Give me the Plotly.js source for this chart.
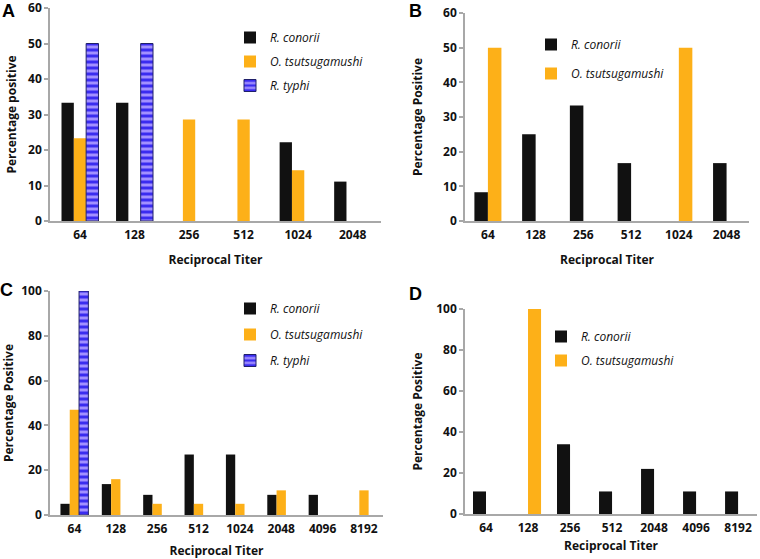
<!DOCTYPE html>
<html>
<head>
<meta charset="utf-8">
<script src="https://cdn.plot.ly/plotly-3.0.1.min.js"></script>
<style>html,body{margin:0;padding:0;background:#fff;}#chart{width:760px;height:559px;}</style>
</head>
<body>
<div id="chart"></div>
<script>
// ---- Data ----
const titersA = ['64','128','256','512','1024','2048'];
const A_conorii = [33.3, 33.3, 0, 0, 22.2, 11.1];
const A_tsutsu  = [23.3, 0, 28.6, 28.6, 14.3, 0];
const A_typhi   = [50, 50, null, null, null, null];

const titersB = ['64','128','256','512','1024','2048'];
const B_conorii = [8.3, 25, 33.3, 16.7, 0, 16.7];
const B_tsutsu  = [50, 0, 0, 0, 50, 0];

const titersC = ['64','128','256','512','1024','2048','4096','8192'];
const C_conorii = [5, 13.8, 9, 27, 27, 9, 9, 0];
const C_tsutsu  = [47, 16, 5, 5, 5, 11, 0, 11];
const C_typhi   = [100, null, null, null, null, null, null, null];

const titersD = ['64','128','256','512','2048','4096','8192'];
const D_conorii = [11, 0, 34, 11, 22, 11, 11];
const D_tsutsu  = [0, 100, 0, 0, 0, 0, 0];

const seriesNames = ['R. conorii', 'O. tsutsugamushi', 'R. typhi'];
const panelLetters = ['A', 'B', 'C', 'D'];

// ---- Styles ----
const W = 760, H = 559;
const BLACK = '#111111', ORANGE = '#FDB018', BLUE = '#3a2cf0', LAV = '#a290ff';
const AXC = '#a8a8a8';
const FONT = 'Open Sans, DejaVu Sans, sans-serif';
const px = v => v / W;
const py = v => 1 - v / H;

function mk(kind) {
  if (kind === 0) return {color: BLACK};
  if (kind === 1) return {color: ORANGE};
  return {color: BLUE, pattern: {shape: '-', bgcolor: BLUE, fgcolor: LAV, size: 6, solidity: 0.5},
          line: {color: '#20206a', width: 1}};
}

function bar(x, y, kind, axis, legend, width, offset) {
  return {
    type: 'bar', x: x, y: y, name: seriesNames[kind],
    xaxis: 'x' + axis, yaxis: 'y' + axis,
    legend: legend, legendgroup: legend + kind,
    width: width, offset: offset,
    marker: mk(kind), hoverinfo: 'x+y'
  };
}

const data = [
  bar(titersA, A_conorii, 0, '', 'legend', 0.226, -0.339),
  bar(titersA, A_tsutsu, 1, '', 'legend', 0.226, -0.113),
  bar(titersA, A_typhi, 2, '', 'legend', 0.226, 0.113),
  bar(titersB, B_conorii, 0, '2', 'legend2', 0.283, -0.283),
  bar(titersB, B_tsutsu, 1, '2', 'legend2', 0.283, 0),
  bar(titersC, C_conorii, 0, '3', 'legend3', 0.225, -0.3375),
  bar(titersC, C_tsutsu, 1, '3', 'legend3', 0.225, -0.1125),
  bar(titersC, C_typhi, 2, '3', 'legend3', 0.225, 0.1125),
  bar(titersD, D_conorii, 0, '4', 'legend4', 0.31, -0.31),
  bar(titersD, D_tsutsu, 1, '4', 'legend4', 0.31, 0)
];

const tickFont = {family: FONT, size: 12, color: '#111', weight: 700};
const titleFont = {family: FONT, size: 12, color: '#111', weight: 700};

function xax(dom, range, anchor, standoff) {
  return {domain: dom, range: range, anchor: anchor, type: 'category',
    showline: true, linecolor: AXC, linewidth: 1.5, ticks: 'outside', ticklen: 2, tickcolor: 'rgba(0,0,0,0)',
    showgrid: false, zeroline: false,
    tickfont: tickFont, automargin: false, fixedrange: true,
    title: {text: 'Reciprocal Titer', font: titleFont, standoff: standoff}};
}
function yax(dom, range, dtick, title, anchor, standoff) {
  return {domain: dom, range: range, dtick: dtick, anchor: anchor,
    showline: true, linecolor: AXC, linewidth: 1.5, ticks: 'outside', ticklen: 4, tickcolor: AXC,
    tickwidth: 1.5, showgrid: false, zeroline: false, tickfont: tickFont, automargin: false,
    ticklabeloverflow: 'allow', fixedrange: true,
    title: {text: title, font: titleFont, standoff: standoff}};
}
function leg(x, y, gap) {
  return {x: x, y: y, xanchor: 'left', yanchor: 'top', bgcolor: 'rgba(0,0,0,0)',
    font: {family: FONT, size: 12, color: '#111', style: 'italic'}, tracegroupgap: gap,
    itemclick: false, itemdoubleclick: false};
}

const layout = {
  width: W, height: H,
  margin: {l: 0, r: 0, t: 0, b: 0},
  paper_bgcolor: '#fff', plot_bgcolor: '#fff',
  barmode: 'overlay', showlegend: true,
  xaxis:  xax([px(50), px(381)], [-0.55, 5.52], 'y', 13),
  yaxis:  yax([py(221), py(8)], [0, 60], 10, 'Percentage positive', 'x', 9),
  xaxis2: xax([px(465), px(749)], [-0.48, 5.47], 'y2', 13),
  yaxis2: yax([py(221), py(13)], [0, 60], 10, 'Percentage Positive', 'x2', 18),
  xaxis3: xax([px(50), px(383)], [-0.59, 7.46], 'y3', 12),
  yaxis3: yax([py(515), py(291)], [0, 100], 20, 'Percentage Positive', 'x3', 7),
  xaxis4: xax([px(465), px(757)], [-0.5, 6.45], 'y4', 6),
  yaxis4: yax([py(514), py(309)], [0, 100], 20, 'Percentage Positive', 'x4', 11),
  legend:  leg(px(230), py(23), 5),
  legend2: leg(px(531), py(30), 10),
  legend3: leg(px(230), py(294), 7),
  legend4: leg(px(541), py(322), 5),
  annotations: [
    [8, 11], [415, 11], [6, 290], [415, 294]
  ].map((p, i) => ({text: panelLetters[i], xref: 'paper', yref: 'paper', x: px(p[0]), y: py(p[1]),
    xanchor: 'center', yanchor: 'middle', showarrow: false,
    font: {family: 'Liberation Sans, Arial, sans-serif', size: 18, color: '#000', weight: 700}}))
};

Plotly.newPlot('chart', data, layout, {displayModeBar: false});
</script>
</body>
</html>
